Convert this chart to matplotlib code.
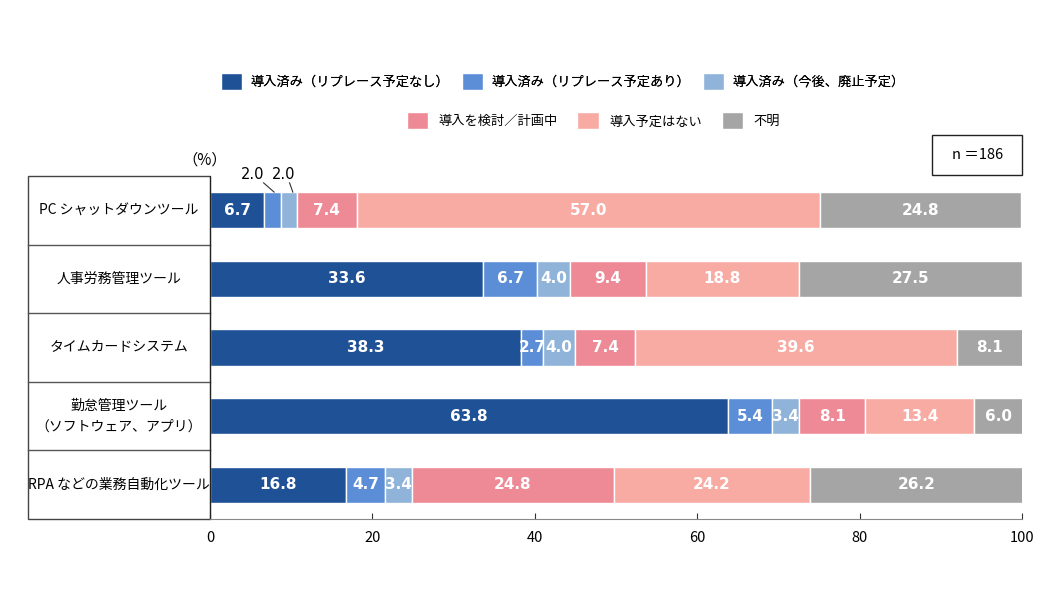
import matplotlib
matplotlib.use("Agg")
import matplotlib.pyplot as plt
from matplotlib.patches import Rectangle

plt.rcParams['font.family'] = ['Noto Sans CJK JP', 'DejaVu Sans']

# data
tools = ["PC シャットダウンツール", "人事労務管理ツール", "タイムカードシステム",
         "勤怠管理ツール\n（ソフトウェア、アプリ）", "RPA などの業務自動化ツール"]
series = ["導入済み（リプレース予定なし）", "導入済み（リプレース予定あり）", "導入済み（今後、廃止予定）",
          "導入を検討／計画中", "導入予定はない", "不明"]
replace_none = [6.7, 33.6, 38.3, 63.8, 16.8]
replace_yes = [2.0, 6.7, 2.7, 5.4, 4.7]
abolish = [2.0, 4.0, 4.0, 3.4, 3.4]
planning = [7.4, 9.4, 7.4, 8.1, 24.8]
no_plan = [57.0, 18.8, 39.6, 13.4, 24.2]
unknown = [24.8, 27.5, 8.1, 6.0, 26.2]
values = [replace_none, replace_yes, abolish, planning, no_plan, unknown]
colors = ['#1F5197', '#5B8ED6', '#8FB3D9', '#EE8A96', '#F8ABA3', '#A5A5A5']

fig = plt.figure(figsize=(10.5, 5.93), dpi=100)
ax = fig.add_axes([0.2, 0.1248, 0.7733, 0.5784])

ypos = list(range(len(tools)))
left = [0.0] * len(tools)
handles = []
for k, vals in enumerate(values):
    bars = ax.barh(ypos, vals, left=left, height=0.53, color=colors[k],
                   edgecolor='white', linewidth=1.0, label=series[k])
    handles.append(bars)
    for i, v in enumerate(vals):
        # small PC segments get outside labels
        if i == 0 and k in (1, 2):
            continue
        ax.text(left[i] + v / 2, i, f"{v:.1f}", ha='center', va='center',
                color='white', fontsize=11, fontweight='bold', family='DejaVu Sans')
    left = [l + v for l, v in zip(left, vals)]

# outside labels for the two 2.0 segments of the PC row, with leader lines
for k, (tx, x0, x1) in ((1, (5.2, 6.6, 7.9)), (2, (9.1, 9.8, 10.2))):
    ax.text(tx, -0.515, f"{values[k][0]:.1f}", ha='center', va='center', fontsize=10.5,
            family='DejaVu Sans')
    ax.plot([x0, x1], [-0.40, -0.265], color='#333333', lw=0.8, clip_on=False)

ax.set_xlim(0, 100)
ax.set_ylim(4.5, -0.5)
ax.set_xticks([0, 20, 40, 60, 80, 100])
ax.tick_params(axis='x', direction='in', length=4, labelsize=10.5, pad=9, color='#333333')
ax.set_yticks([])
for s in ['top', 'right']:
    ax.spines[s].set_visible(False)
ax.spines['bottom'].set_color('#888888')
ax.spines['left'].set_color('#222222')

# category label box
bx0 = -22.4
ax.add_patch(Rectangle((bx0, -0.5), -bx0, 5, fill=False, edgecolor='#444444',
                       lw=1.0, clip_on=False))
for i in range(1, len(tools)):
    ax.plot([bx0, 0], [i - 0.5, i - 0.5], color='#555555', lw=1.0, clip_on=False)
for i, name in enumerate(tools):
    ax.text(bx0 / 2, i, name, ha='center', va='center', fontsize=10, linespacing=1.6)
ax.text(-0.6, -0.73, "（%）", ha='center', va='center', fontsize=11)

# n box
fig.add_artist(Rectangle((0.8876, 0.7049), 0.0857, 0.0675, transform=fig.transFigure,
                         fill=False, edgecolor='#222222', lw=1.0))
fig.text(0.931, 0.738, "n ＝186", ha='center', va='center', fontsize=10.5)

leg1 = fig.legend(handles[:3], series[:3], loc='center', bbox_to_anchor=(0.536, 0.863),
                  ncol=3, frameon=False, fontsize=9.5, handlelength=1.6, handleheight=1.6,
                  columnspacing=1.0, handletextpad=0.6)
fig.legend(handles[3:], series[3:], loc='center', bbox_to_anchor=(0.565, 0.796),
           ncol=3, frameon=False, fontsize=9.5, handlelength=1.6, handleheight=1.6,
           columnspacing=1.5, handletextpad=0.8)
fig.add_artist(leg1)

fig.savefig("out.png", dpi=100, facecolor='white')
